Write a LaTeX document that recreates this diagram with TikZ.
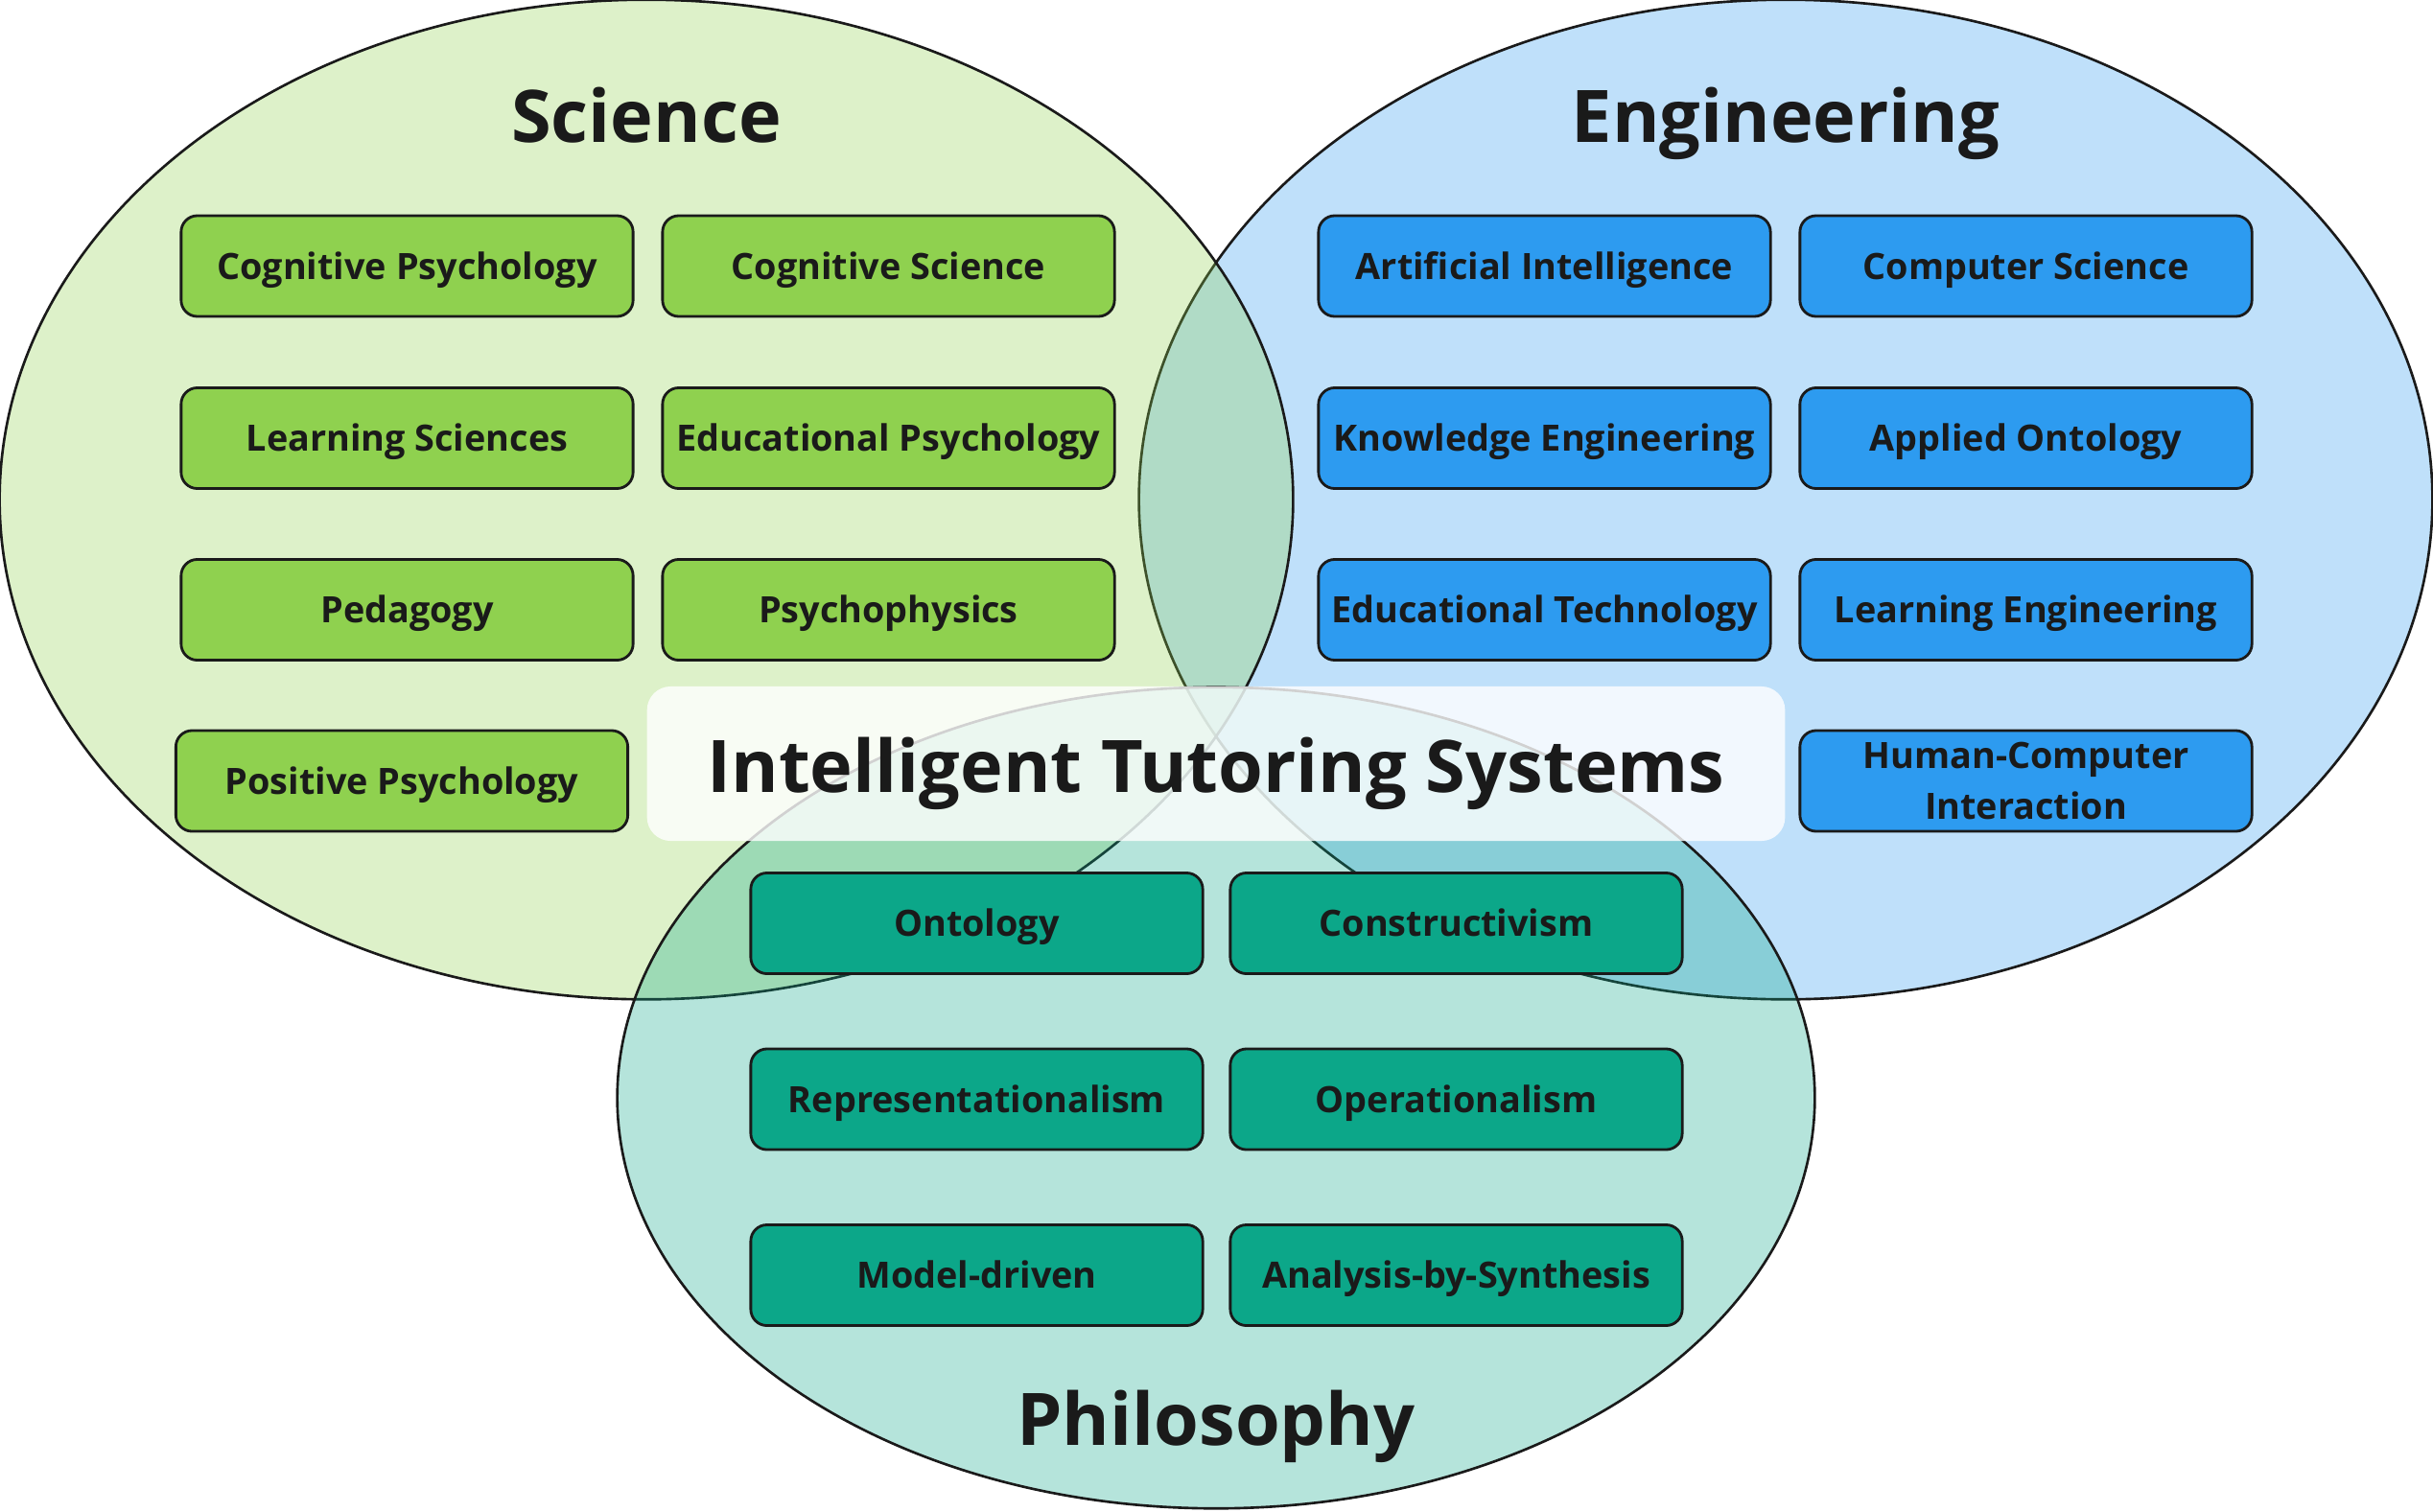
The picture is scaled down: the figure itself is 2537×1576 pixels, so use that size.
\documentclass[tikz,border=0pt]{standalone}
\usepackage{fontspec}
\setmainfont{Open Sans}
\definecolor{txt}{HTML}{1A1A1A}
\definecolor{sgreen}{HTML}{8FD14F}
\definecolor{eblue}{HTML}{2D9BF0}
\definecolor{pteal}{HTML}{0CA789}
\begin{document}
\begin{tikzpicture}[x=0.01cm,y=-0.01cm,
  venn/.style={draw=txt, line width=0.75pt, fill opacity=0.3},
  box/.style={draw=txt, line width=0.8pt, rounded corners=4.8pt, minimum width=4.71cm, minimum height=1.05cm, inner sep=0pt, font=\fontsize{10.75}{14.8}\selectfont\bfseries, text=txt, align=center},
  one/.style={text height=7.7pt, text depth=0pt},
  sbox/.style={box, one, fill=sgreen},
  ebox/.style={box, one, fill=eblue},
  pbox/.style={box, one, fill=pteal},
  title/.style={font=\fontsize{21.5}{25}\selectfont\bfseries, text=txt, anchor=base, inner sep=0pt}]
\useasboundingbox (0,0) rectangle (2537,1576);
\fill[white] (0,0) rectangle (2537,1576);
% circles
\path[venn, fill=eblue] (1862,521) ellipse [x radius=6.74cm, y radius=5.21cm];
\path[venn, fill=sgreen] (674,521) ellipse [x radius=6.74cm, y radius=5.21cm];
\path[venn, fill=pteal] (1268,1145) ellipse [x radius=6.24cm, y radius=4.28cm];
% titles
\node[title] (tsci) at (674,149) {Science};
\node[title] (teng) at (1862,149) {Engineering};
\node[title] (tphi) at (1268,1507) {Philosophy};
% science boxes
\node[sbox] (s1) at (424.5,277.5) {Cognitive Psychology};
\node[sbox] (s2) at (926.5,277.5) {Cognitive Science};
\node[sbox] (s3) at (424.5,457) {Learning Sciences};
\node[sbox] (s4) at (926.5,457) {Educational Psychology};
\node[sbox] (s5) at (424.5,636) {Pedagogy};
\node[sbox] (s6) at (926.5,636) {Psychophysics};
\node[sbox] (s7) at (419,814.5) {Positive Psychology};
% engineering boxes
\node[ebox] (e1) at (1610.5,277.5) {Artificial Intelligence};
\node[ebox] (e2) at (2112.5,277.5) {Computer Science};
\node[ebox] (e3) at (1610.5,457) {Knowledge Engineering};
\node[ebox] (e4) at (2112.5,457) {Applied Ontology};
\node[ebox] (e5) at (1610.5,636) {Educational Technology};
\node[ebox] (e6) at (2112.5,636) {Learning Engineering};
\node[box, fill=eblue] (e7) at (2112.5,814.5) {Human-Computer\\Interaction};
% philosophy boxes
\node[pbox] (p1) at (1018.5,963) {Ontology};
\node[pbox] (p2) at (1518.5,963) {Constructivism};
\node[pbox] (p3) at (1018.5,1146.5) {Representationalism};
\node[pbox] (p4) at (1518.5,1146.5) {Operationalism};
\node[pbox] (p5) at (1018.5,1330) {Model-driven};
\node[pbox] (p6) at (1518.5,1330) {Analysis-by-Synthesis};
% central label
\node[fill=white, fill opacity=0.8, text opacity=1, rounded corners=7pt, minimum width=11.86cm, minimum height=1.61cm, inner sep=0pt] (itsbox) at (1268,796.5) {};
\node[title] (its) at (1268,826) {Intelligent Tutoring Systems};
\end{tikzpicture}
\end{document}
